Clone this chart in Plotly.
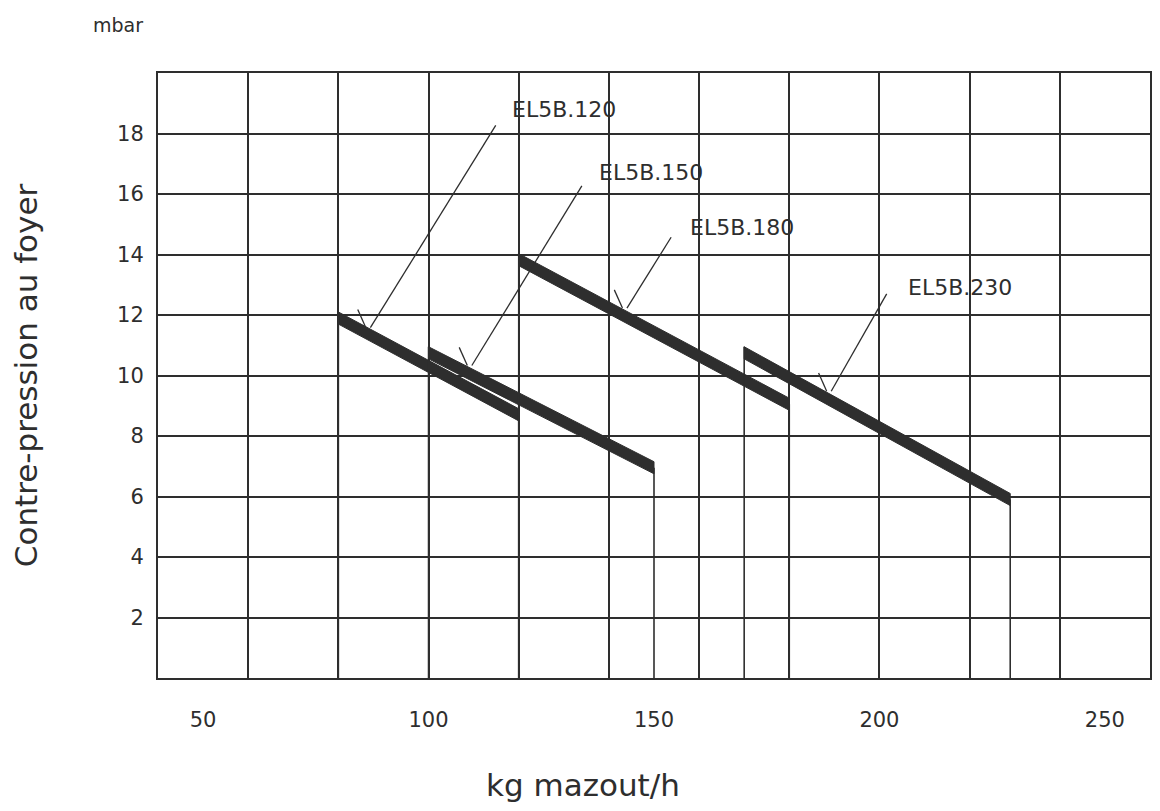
import plotly.graph_objects as go

# ---- data ----
models = ["EL5B.120", "EL5B.150", "EL5B.180", "EL5B.230"]
flow_start = [80, 100, 120, 170]          # kg mazout/h
flow_end = [120, 150, 180, 229]
press_start = [11.9, 10.75, 13.83, 10.75]  # mbar
press_end = [8.7, 6.95, 9.05, 5.9]

# label & leader positions (data units)
label_x = [130.0, 149.3, 169.6, 217.8]
label_y = [18.8, 16.7, 14.9, 12.9]
leader_top_x = [114.9, 134.0, 153.8, 201.6]
leader_top_y = [18.27, 16.27, 14.57, 12.7]
leader_end_x = [87.1, 109.6, 144.0, 189.3]
leader_end_y = [11.58, 10.33, 12.23, 9.48]

x_grid = list(range(40, 261, 20))
x_tick_vals = [50, 100, 150, 200, 250]
y_tick_vals = [2, 4, 6, 8, 10, 12, 14, 16, 18]

INK = "#2e2e2e"
FONT = "DejaVu Sans"
HALF = 0.2  # half thickness of band in mbar

fig = go.Figure()

for i, m in enumerate(models):
    x0, x1 = flow_start[i], flow_end[i]
    y0, y1 = press_start[i], press_end[i]
    fig.add_trace(go.Scatter(
        x=[x0, x1, x1, x0, x0],
        y=[y0 + HALF, y1 + HALF, y1 - HALF, y0 - HALF, y0 + HALF],
        fill="toself", fillcolor=INK, mode="lines",
        line=dict(color=INK, width=1), name=m, showlegend=False,
        hoverinfo="skip"))
    # vertical limits down to the axis
    fig.add_trace(go.Scatter(x=[x0, x0], y=[y0 + HALF, 0], mode="lines",
                             line=dict(color=INK, width=1.6),
                             showlegend=False, hoverinfo="skip"))
    fig.add_trace(go.Scatter(x=[x1, x1], y=[y1, 0], mode="lines",
                             line=dict(color=INK, width=1.6),
                             showlegend=False, hoverinfo="skip"))
    # leader line
    fig.add_shape(type="line", x0=leader_top_x[i], y0=leader_top_y[i],
                  x1=leader_end_x[i], y1=leader_end_y[i],
                  line=dict(color=INK, width=1.3))
    fig.add_shape(type="line", x0=leader_end_x[i] - 1.0, y0=leader_end_y[i],
                  x1=leader_end_x[i] - 2.8, y1=leader_end_y[i] + 0.6,
                  line=dict(color=INK, width=1.3))
    fig.add_annotation(x=label_x[i], y=label_y[i], text=m, showarrow=False,
                       font=dict(family=FONT, size=22, color=INK))

# invisible trace for label axis
fig.add_trace(go.Scatter(x=[50, 250], y=[0, 0], xaxis="x2", mode="markers",
                         marker=dict(opacity=0), showlegend=False,
                         hoverinfo="skip"))

fig.update_layout(
    width=1160, height=811,
    margin=dict(l=150, r=18, t=65, b=141),
    paper_bgcolor="white", plot_bgcolor="white",
    font=dict(family=FONT, color=INK, size=21),
    xaxis=dict(range=[40, 260], tickvals=x_grid, showticklabels=False,
               ticks="", showgrid=True, gridcolor=INK, gridwidth=1.6,
               showline=True, mirror=True, linecolor=INK, linewidth=2,
               zeroline=False, automargin=False),
    xaxis2=dict(range=[40, 260], overlaying="x", side="bottom",
                tickvals=x_tick_vals, ticks="", showgrid=False,
                zeroline=False, showline=False, ticklabelstandoff=27,
                automargin=False,
                tickfont=dict(size=21, family=FONT, color=INK)),
    yaxis=dict(range=[0, 20], tickvals=y_tick_vals, ticks="",
               showgrid=True, gridcolor=INK, gridwidth=1.6,
               showline=True, mirror=True, linecolor=INK, linewidth=2,
               zeroline=False, ticklabelstandoff=8, automargin=False,
               tickfont=dict(size=21, family=FONT, color=INK),
               title=dict(text="Contre-pression au foyer", standoff=70,
                          font=dict(size=31, family=FONT, color=INK))),
)

# x-axis title (off-centre in the original)
fig.add_annotation(xref="paper", yref="paper", x=0.428, y=0, yshift=-107,
                   xanchor="center", yanchor="middle", text="kg mazout/h",
                   showarrow=False, font=dict(size=31, family=FONT, color=INK))

fig.add_annotation(xref="paper", yref="paper", x=-0.04, y=1.0, yshift=35,
                   xanchor="center", yanchor="bottom", text="mbar",
                   showarrow=False, font=dict(size=19, family=FONT, color=INK))

fig.write_html("out.html")
